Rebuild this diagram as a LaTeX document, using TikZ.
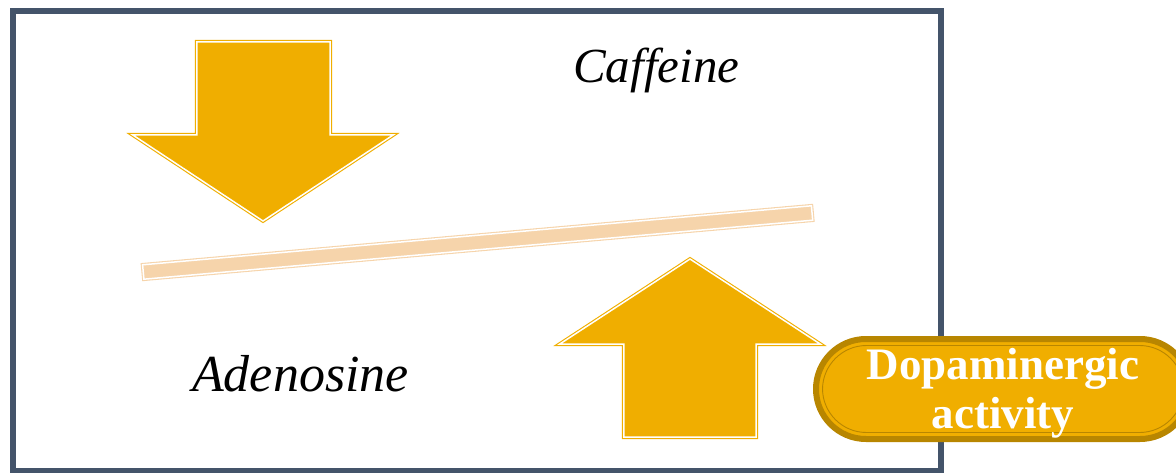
\documentclass[tikz,border=0pt]{standalone}
\usepackage{fontspec}
\setmainfont{Liberation Serif}
\definecolor{gold}{HTML}{F0AE00}
\definecolor{darkgold}{HTML}{B88600}
\definecolor{peach}{HTML}{F6D4AB}
\definecolor{frame}{HTML}{44546A}
\tikzset{
  goldshape/.style={fill=gold, draw=gold, double=white, line width=1.1pt, double distance=1.5pt, line join=miter},
  barshape/.style={fill=peach, draw=peach, double=white, line width=1.1pt, double distance=1.5pt},
  label/.style={inner sep=0pt, anchor=base west, font=\itshape},
}
\begin{document}
\begin{tikzpicture}[x=1pt, y=-1pt]
\useasboundingbox (0,0) rectangle (1176,473);
% frame
\draw[frame, line width=5.5pt] (13,11) rectangle (941,471);
% down arrow
\draw[goldshape] (196.8,41.8) -- (330.2,41.8) -- (330.2,134.8) -- (393.5,134.8) -- (263,221) -- (132.5,134.8) -- (196.8,134.8) -- cycle;
% up arrow
\draw[goldshape] (690,259) -- (820.5,344.2) -- (756.2,344.2) -- (756.2,437.2) -- (623.8,437.2) -- (623.8,344.2) -- (559.5,344.2) -- cycle;
% bar
\draw[barshape] (142.6,264.8) -- (811.4,205.8) -- (812.7,220.2) -- (143.9,279.2) -- cycle;
% texts
\node[label, font=\itshape\fontsize{49}{53}\selectfont] (caf) at (573,83) {Caffeine};
\node[label, font=\itshape\fontsize{52}{56}\selectfont] (ade) at (192,391) {Adenosine};
% pill
\draw[fill=gold, draw=darkgold, line width=6pt, rounded corners=50pt] (816,339) rectangle (1190,439);
\draw[darkgold, line width=0.9pt, rounded corners=44pt] (822.5,345.5) rectangle (1183.5,432.5);
\node[inner sep=0pt, align=center, text=white, font=\bfseries\fontsize{45}{49}\selectfont] (dop) at (1003,393) {Dopaminergic\\activity};
\end{tikzpicture}
\end{document}
